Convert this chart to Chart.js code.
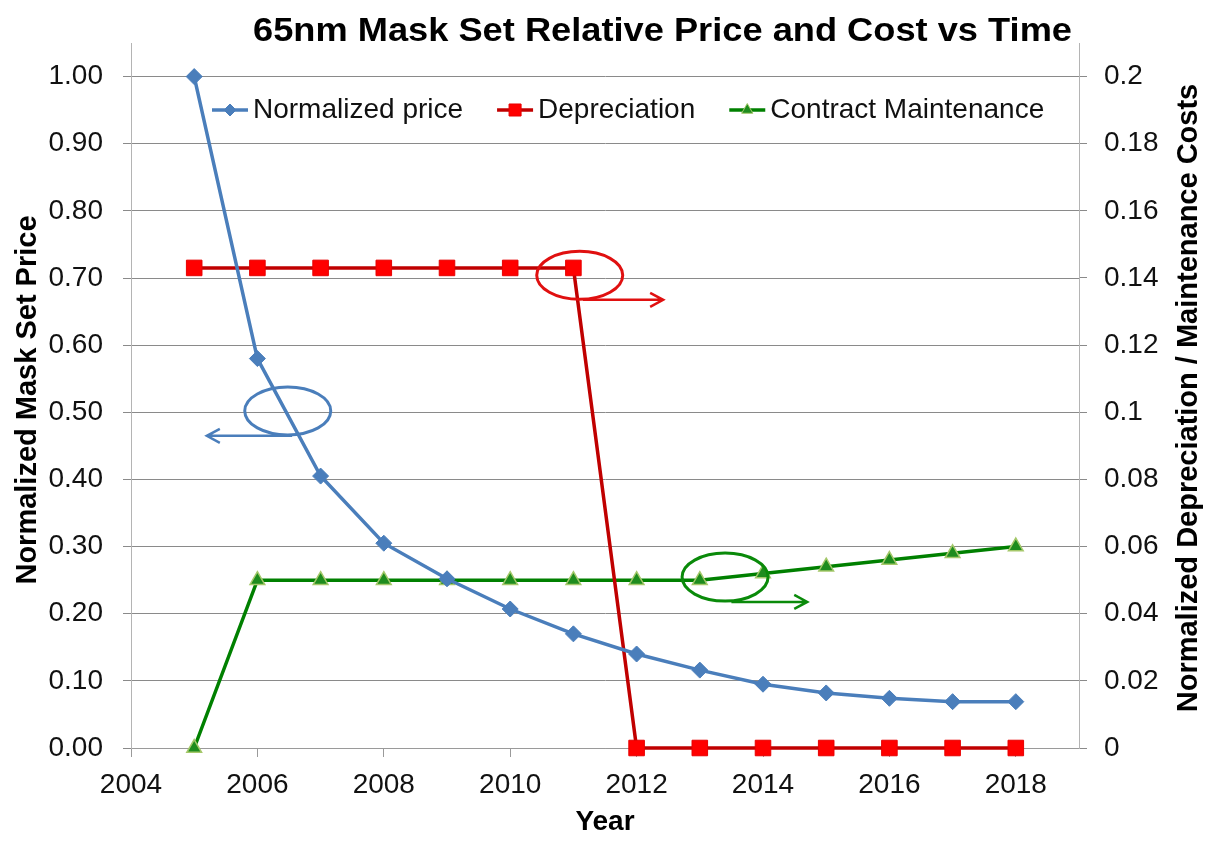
<!DOCTYPE html>
<html>
<head>
<meta charset="utf-8">
<script src="https://cdn.jsdelivr.net/npm/chart.js@4.4.1/dist/chart.umd.min.js"></script>
<style>
  html, body { margin: 0; padding: 0; background: #fff; }
  canvas { display: block; }
</style>
</head>
<body>
<canvas id="maskChart" width="1205" height="843"></canvas>
<script>
const years = [2005, 2006, 2007, 2008, 2009, 2010, 2011, 2012, 2013, 2014, 2015, 2016, 2017, 2018];
const normalizedPrice = [1.00, 0.58, 0.405, 0.305, 0.252, 0.207, 0.17, 0.14, 0.116, 0.095, 0.082, 0.074, 0.069, 0.069];
const depreciation = [0.143, 0.143, 0.143, 0.143, 0.143, 0.143, 0.143, 0, 0, 0, 0, 0, 0, 0];
const contractMaintenance = [0, 0.05, 0.05, 0.05, 0.05, 0.05, 0.05, 0.05, 0.05, 0.052, 0.054, 0.056, 0.058, 0.06];

const seriesNames = ['Normalized price', 'Depreciation', 'Contract Maintenance'];
const chartTitle = '65nm Mask Set Relative Price and Cost vs Time';
const xTitle = 'Year';
const leftTitle = 'Normalized Mask Set Price';
const rightTitle = 'Normalized Depreciation / Maintenance Costs';

// circled callouts with arrows pointing to the axis each series uses (data units)
const callouts = [
    { axis: 'y',  cx: 2006.48, cy: 0.502, arrowY: 0.465, from: 2006.55, to: 2005.20, color: '#4A7EBB' },
    { axis: 'y2', cx: 2011.10, cy: 0.1408, arrowY: 0.1335, from: 2011.15, to: 2012.42, color: '#E01010' },
    { axis: 'y2', cx: 2013.40, cy: 0.0509, arrowY: 0.0435, from: 2013.50, to: 2014.70, color: '#0A8A0A' }
];

const FONT = "'Liberation Sans', Arial, sans-serif";

function toPoints(values) {
    return years.map((yr, i) => ({ x: yr, y: values[i] }));
}

const extras = {
    id: 'extras',
    afterDatasetsDraw(chart) {
        const ctx = chart.ctx;
        const xs = chart.scales.x;

        // callouts
        callouts.forEach(c => {
            const ys = chart.scales[c.axis];
            const cx = xs.getPixelForValue(c.cx);
            const cy = ys.getPixelForValue(c.cy);
            const ay = ys.getPixelForValue(c.arrowY);
            const x1 = xs.getPixelForValue(c.from);
            const x2 = xs.getPixelForValue(c.to);
            ctx.save();
            ctx.strokeStyle = c.color;
            ctx.lineWidth = 3;
            ctx.beginPath();
            ctx.ellipse(cx, cy, 43, 24, 0, 0, Math.PI * 2);
            ctx.stroke();
            ctx.lineWidth = 2.5;
            ctx.beginPath();
            ctx.moveTo(x1, ay);
            ctx.lineTo(x2, ay);
            const dir = x2 < x1 ? 1 : -1;
            ctx.moveTo(x2 + dir * 13, ay - 7);
            ctx.lineTo(x2, ay);
            ctx.lineTo(x2 + dir * 13, ay + 7);
            ctx.stroke();
            ctx.restore();
        });

        // legend inside plot
        ctx.save();
        ctx.font = '28px ' + FONT;
        ctx.textBaseline = 'middle';
        let lx = 212;
        const ly = 110;
        chart.data.datasets.forEach(ds => {
            ctx.strokeStyle = ds.borderColor;
            ctx.lineWidth = 3.5;
            ctx.beginPath();
            ctx.moveTo(lx, ly);
            ctx.lineTo(lx + 36, ly);
            ctx.stroke();
            ctx.fillStyle = ds.pointBackgroundColor;
            ctx.strokeStyle = ds.pointBorderColor;
            ctx.lineWidth = 1;
            Chart.helpers.drawPoint(ctx, { pointStyle: ds.pointStyle, rotation: 0, borderWidth: 1, radius: ds.legendRadius }, lx + 18, ly);
            ctx.fillStyle = '#111';
            ctx.fillText(ds.label, lx + 41, ly);
            lx += 41 + ctx.measureText(ds.label).width + 34;
        });
        ctx.restore();

        // titles
        ctx.save();
        ctx.fillStyle = '#000';
        ctx.font = 'bold 33px ' + FONT;
        ctx.textBaseline = 'alphabetic';
        ctx.textAlign = 'left';
        const tw = ctx.measureText(chartTitle).width;
        ctx.translate(253, 41);
        ctx.scale(819 / tw, 1);
        ctx.fillText(chartTitle, 0, 0);
        ctx.restore();

        ctx.save();
        ctx.fillStyle = '#000';
        ctx.font = 'bold 28px ' + FONT;
        ctx.textAlign = 'center';
        ctx.textBaseline = 'middle';
        ctx.fillText(xTitle, 605, 822);
        ctx.font = 'bold 29px ' + FONT;
        ctx.translate(28, 400);
        ctx.rotate(-Math.PI / 2);
        ctx.fillText(leftTitle, 0, 0);
        ctx.restore();

        ctx.save();
        ctx.fillStyle = '#000';
        ctx.font = 'bold 29px ' + FONT;
        ctx.textAlign = 'center';
        ctx.textBaseline = 'middle';
        ctx.translate(1189, 398);
        ctx.rotate(-Math.PI / 2);
        ctx.fillText(rightTitle, 0, 0);
        ctx.restore();
    }
};

const tickFont = { family: FONT, size: 28 };

new Chart(document.getElementById('maskChart').getContext('2d'), {
    type: 'line',
    data: {
        datasets: [{
            label: seriesNames[0],
            data: toPoints(normalizedPrice),
            yAxisID: 'y',
            borderColor: '#4A7EBB',
            borderWidth: 3.5,
            pointStyle: 'rectRot',
            pointRadius: 8,
            legendRadius: 6,
            pointBackgroundColor: '#4A7EBB',
            pointBorderColor: '#4A7EBB',
            pointBorderWidth: 1,
            tension: 0,
            clip: false
        }, {
            label: seriesNames[1],
            data: toPoints(depreciation),
            yAxisID: 'y2',
            borderColor: '#C00000',
            borderWidth: 3.5,
            pointStyle: 'rect',
            pointRadius: 11,
            legendRadius: 8.5,
            pointBackgroundColor: '#FF0000',
            pointBorderColor: '#E80000',
            pointBorderWidth: 1,
            tension: 0,
            clip: false
        }, {
            label: seriesNames[2],
            data: toPoints(contractMaintenance),
            yAxisID: 'y2',
            borderColor: '#008000',
            borderWidth: 3.5,
            pointStyle: 'triangle',
            pointRadius: 8.5,
            legendRadius: 6.5,
            pointBackgroundColor: '#1E8C1E',
            pointBorderColor: '#A5C86A',
            pointBorderWidth: 1.5,
            tension: 0,
            clip: false
        }]
    },
    options: {
        responsive: false,
        animation: false,
        layout: { padding: { top: 43, left: 0, right: 0, bottom: 0 } },
        plugins: {
            legend: { display: false },
            tooltip: { enabled: false }
        },
        scales: {
            x: {
                type: 'linear',
                min: 2004,
                max: 2019,
                afterFit: s => { s.height = 95; },
                ticks: {
                    stepSize: 2,
                    includeBounds: false,
                    font: tickFont,
                    color: '#111',
                    padding: 11,
                    maxRotation: 0,
                    callback: v => String(v)
                },
                grid: { drawOnChartArea: false, tickLength: 9, color: '#9a9a9a' },
                border: { color: '#9a9a9a' }
            },
            y: {
                position: 'left',
                min: 0,
                max: 1.05,
                afterFit: s => { s.width = 131; },
                ticks: {
                    stepSize: 0.1,
                    includeBounds: false,
                    font: tickFont,
                    color: '#111',
                    padding: 20,
                    callback: v => v.toFixed(2)
                },
                grid: { color: '#8a8a8a', tickLength: 8 },
                border: { color: '#b4b4b4' }
            },
            y2: {
                position: 'right',
                min: 0,
                max: 0.21,
                afterFit: s => { s.width = 126; },
                ticks: {
                    stepSize: 0.02,
                    includeBounds: false,
                    font: tickFont,
                    color: '#111',
                    padding: 17,
                    callback: v => String(+v.toFixed(2))
                },
                grid: { drawOnChartArea: false, tickLength: 8, color: '#8a8a8a' },
                border: { color: '#b4b4b4' }
            }
        }
    },
    plugins: [extras]
});
</script>
</body>
</html>
